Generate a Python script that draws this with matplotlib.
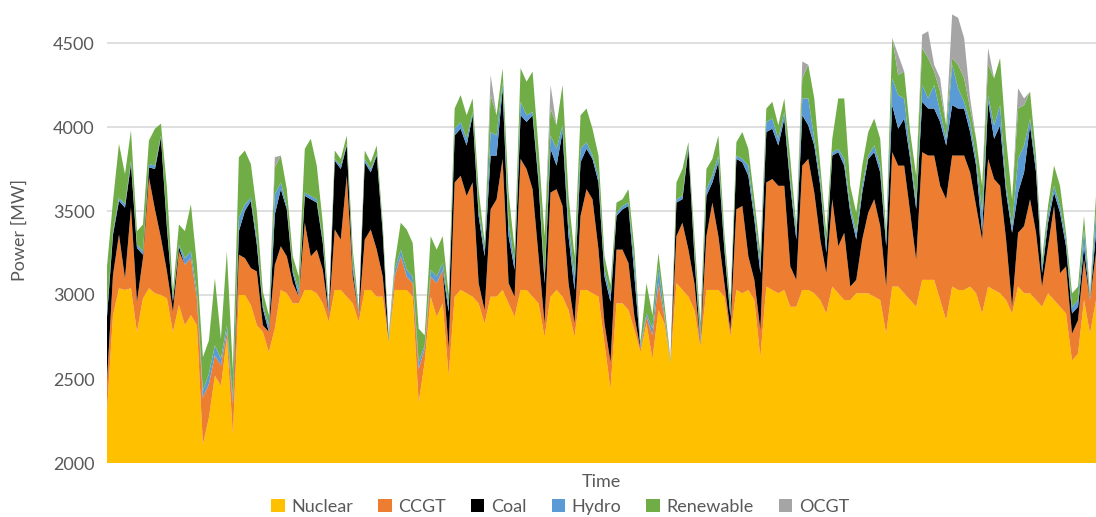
import numpy as np
import matplotlib
matplotlib.use("Agg")
import matplotlib.pyplot as plt
from matplotlib.patches import Patch

# hourly-ish samples (MW)
nuclear = [2310, 2880, 3040, 3030, 3040, 2780, 2980, 3040, 3010, 3000,
           2980, 2780, 2940, 2820, 2880, 2820, 2110, 2270, 2520, 2460,
           2740, 2170, 3000, 3000, 2940, 2820, 2780, 2660, 2800, 3030,
           3010, 2950, 2950, 3030, 3030, 3010, 2950, 2840, 3030, 3030,
           2990, 2950, 2840, 3030, 3030, 2990, 2990, 2720, 3030, 3030,
           3030, 2990, 2360, 2600, 2990, 2870, 2950, 2520, 2990, 3030,
           3010, 2990, 2950, 2830, 2990, 2990, 3030, 2950, 2870, 3030,
           3030, 2990, 2950, 2750, 2990, 3030, 2990, 2910, 2750, 3030,
           3030, 3010, 2990, 2710, 2440, 2950, 2950, 2910, 2790, 2660,
           2830, 2620, 2910, 2830, 2600, 3070, 3030, 2990, 2910, 2690,
           3030, 3030, 3030, 2990, 2750, 3030, 3010, 3030, 2970, 2630,
           3050, 3030, 3010, 3030, 2930, 2930, 3030, 3030, 3010, 2970,
           2890, 3050, 3010, 2970, 2970, 3010, 3010, 3010, 2990, 2970,
           2770, 3050, 3050, 3010, 2970, 2930, 3090, 3090, 3090, 2970,
           2850, 3050, 3030, 3030, 3050, 3010, 2890, 3050, 3030, 3010,
           2970, 2890, 3050, 3010, 3010, 2970, 2930, 3010, 2970, 2930,
           2890, 2610, 2650, 2970, 2770, 2970]
ccgt = [180, 240, 320, 70, 480, 180, 240, 660, 500, 340,
        160, 120, 320, 360, 340, 160, 280, 200, 120, 120,
        40, 180, 240, 220, 220, 320, 40, 120, 380, 260,
        220, 120, 40, 400, 200, 260, 200, 40, 360, 300,
        720, 160, 40, 300, 360, 280, 120, 0, 80, 200,
        80, 80, 200, 80, 120, 200, 200, 160, 680, 680,
        580, 680, 120, 80, 520, 580, 780, 120, 120, 780,
        720, 640, 280, 80, 620, 600, 540, 160, 80, 440,
        600, 560, 280, 120, 160, 320, 320, 280, 80, 20,
        40, 140, 160, 40, 0, 280, 400, 280, 160, 20,
        320, 520, 320, 80, 40, 480, 520, 200, 120, 160,
        620, 660, 640, 620, 240, 160, 740, 780, 600, 360,
        240, 520, 280, 400, 80, 80, 320, 480, 580, 440,
        280, 800, 720, 760, 520, 280, 760, 740, 740, 680,
        720, 780, 800, 800, 680, 520, 440, 760, 660, 640,
        360, 40, 320, 400, 560, 400, 120, 280, 560, 200,
        280, 160, 200, 240, 200, 280]
coal = [380, 240, 200, 420, 260, 320, 20, 60, 240, 600,
        260, 60, 30, 0, 0, 0, 0, 0, 0, 0,
        0, 0, 140, 280, 400, 160, 100, 0, 300, 340,
        280, 60, 0, 160, 340, 280, 160, 0, 410, 420,
        180, 40, 0, 460, 340, 560, 260, 0, 0, 0,
        0, 0, 0, 0, 0, 0, 0, 220, 280, 280,
        300, 400, 400, 320, 320, 260, 420, 280, 160, 260,
        280, 440, 440, 240, 260, 140, 440, 280, 200, 320,
        240, 240, 400, 280, 360, 200, 240, 340, 240, 0,
        0, 0, 0, 0, 0, 200, 140, 600, 160, 0,
        240, 120, 440, 200, 80, 300, 260, 480, 360, 340,
        300, 300, 240, 400, 480, 240, 300, 200, 280, 320,
        120, 260, 560, 400, 440, 240, 280, 320, 280, 320,
        240, 280, 220, 280, 320, 300, 300, 280, 280, 380,
        320, 300, 280, 280, 240, 240, 40, 340, 240, 360,
        280, 440, 240, 320, 440, 360, 80, 140, 80, 360,
        120, 120, 80, 80, 0, 120]
hydro = [40, 20, 20, 20, 20, 20, 20, 20, 20, 10,
         20, 20, 10, 40, 40, 40, 40, 60, 60, 40,
         40, 40, 80, 40, 20, 40, 20, 40, 120, 40,
         20, 20, 40, 20, 20, 20, 20, 40, 10, 20,
         10, 40, 20, 20, 20, 10, 20, 10, 40, 40,
         40, 40, 40, 20, 40, 40, 40, 40, 40, 40,
         40, 20, 40, 40, 140, 120, 40, 80, 40, 80,
         40, 20, 40, 40, 80, 100, 40, 80, 80, 80,
         40, 20, 40, 40, 40, 20, 20, 20, 80, 20,
         20, 40, 100, 20, 10, 20, 20, 20, 40, 40,
         40, 40, 40, 40, 20, 20, 20, 60, 40, 60,
         60, 60, 40, 40, 40, 40, 100, 160, 40, 40,
         40, 20, 20, 40, 40, 40, 40, 20, 40, 40,
         40, 160, 200, 120, 40, 40, 100, 60, 140, 60,
         40, 240, 120, 40, 60, 40, 120, 40, 80, 120,
         40, 40, 200, 160, 40, 40, 40, 40, 40, 40,
         40, 40, 40, 100, 20, 120]
renewable = [260, 180, 320, 180, 180, 80, 160, 140, 220, 70,
             220, 40, 120, 160, 280, 160, 200, 200, 400, 120,
             440, 160, 360, 320, 200, 160, 80, 60, 160, 160,
             100, 80, 80, 260, 340, 200, 100, 20, 50, 40,
             50, 80, 20, 50, 40, 50, 40, 30, 40, 160,
             240, 200, 200, 60, 200, 160, 160, 60, 120, 160,
             140, 80, 120, 40, 220, 120, 80, 180, 80, 200,
             200, 240, 160, 240, 160, 140, 240, 160, 120, 200,
             200, 160, 120, 80, 60, 60, 40, 80, 80, 20,
             180, 80, 80, 60, 10, 100, 160, 20, 80, 80,
             120, 100, 120, 60, 60, 80, 160, 100, 80, 60,
             80, 100, 80, 80, 120, 40, 120, 200, 240, 80,
             80, 80, 300, 360, 120, 120, 120, 140, 160, 160,
             40, 240, 120, 160, 120, 160, 220, 240, 80, 120,
             80, 40, 140, 140, 80, 120, 160, 180, 280, 280,
             280, 160, 300, 240, 160, 60, 40, 60, 120, 120,
             40, 80, 80, 80, 20, 100]
ocgt = [0, 0, 0, 0, 0, 0, 0, 0, 0, 0,
        0, 0, 0, 0, 0, 0, 0, 0, 0, 0,
        0, 0, 0, 0, 0, 0, 0, 0, 60, 0,
        0, 0, 0, 0, 0, 0, 0, 0, 0, 0,
        0, 0, 0, 0, 0, 0, 0, 0, 0, 0,
        0, 0, 0, 0, 0, 0, 0, 0, 0, 0,
        0, 0, 0, 0, 120, 0, 0, 0, 0, 0,
        0, 0, 0, 0, 140, 0, 0, 0, 0, 0,
        0, 0, 0, 0, 0, 0, 0, 0, 0, 0,
        0, 0, 0, 0, 0, 0, 0, 0, 0, 0,
        0, 0, 0, 0, 0, 0, 0, 0, 0, 0,
        0, 0, 0, 0, 0, 0, 100, 0, 0, 0,
        0, 0, 0, 0, 0, 0, 0, 0, 0, 0,
        0, 0, 120, 0, 0, 0, 80, 160, 40, 80,
        0, 260, 280, 240, 60, 0, 0, 100, 0, 0,
        0, 0, 120, 40, 0, 0, 0, 0, 0, 0,
        0, 0, 0, 0, 0, 0]

names = ["Nuclear", "CCGT", "Coal", "Hydro", "Renewable", "OCGT"]
colors = ["#FFC000", "#ED7D31", "#000000", "#5B9BD5", "#70AD47", "#A5A5A5"]
series = [nuclear, ccgt, coal, hydro, renewable, ocgt]

plt.rcParams["font.family"] = ["Lato", "DejaVu Sans"]
txt = "#595959"

fig = plt.figure(figsize=(10.96, 5.17), dpi=100)
ax = fig.add_axes([107 / 1096, 54 / 517, 989 / 1096, 463 / 517])

x = np.arange(len(nuclear))
ax.stackplot(x, *series, colors=colors, linewidth=0, zorder=2)

ax.set_xlim(0, len(nuclear) - 1)
ax.set_ylim(2000, 2000 + 463 * 500 / 84)
ax.set_yticks([2000, 2500, 3000, 3500, 4000, 4500])
ax.set_xticks([])
ax.tick_params(axis="y", length=0, pad=9, labelsize=13, labelcolor=txt)
ax.grid(axis="y", color="#d9d9d9", linewidth=1.2, zorder=1)
ax.set_axisbelow(True)
for s in ax.spines.values():
    s.set_visible(False)

fig.text(20 / 1096, 1 - 230 / 517, "Power [MW]", rotation=90, ha="center",
         va="center", fontsize=13, color=txt)
fig.text(601 / 1096, 1 - 482 / 517, "Time", ha="center", va="center",
         fontsize=13, color=txt)

handles = [Patch(facecolor=c, edgecolor="none") for c in colors]
fig.legend(handles, names, loc="center", bbox_to_anchor=(560 / 1096, 1 - 507 / 517),
           ncol=6, frameon=False, fontsize=13, labelcolor=txt,
           handlelength=0.75, handleheight=0.75, handletextpad=0.35,
           columnspacing=1.4, borderpad=0)

fig.savefig("out.png", dpi=100)
